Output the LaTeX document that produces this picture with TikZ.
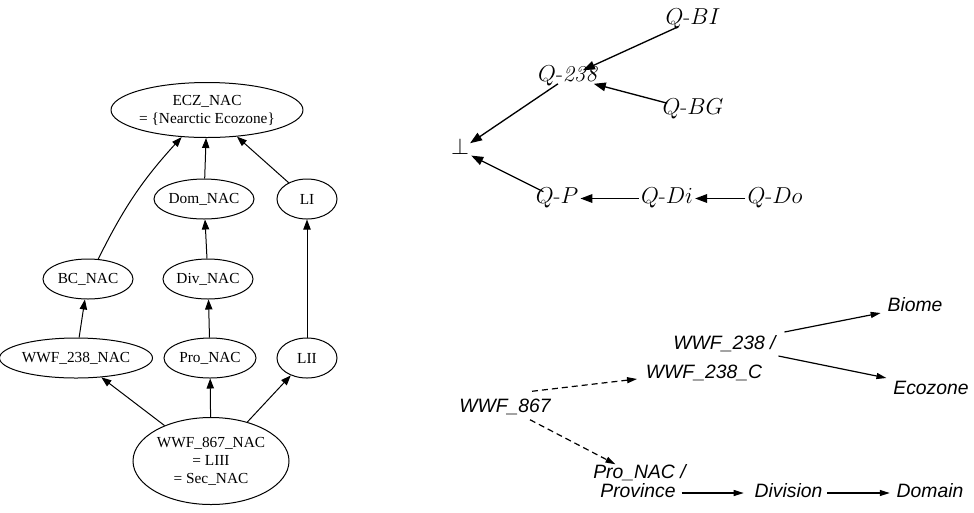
\documentclass[tikz,border=0pt]{standalone}
\usepackage{fontspec}
\newfontfamily\tnr{Liberation Serif}
\newfontfamily\hel{Liberation Sans}
\usetikzlibrary{arrows.meta,shapes.geometric,calc}
\begin{document}
\begin{tikzpicture}[x=0.75pt,y=-0.75pt,
  gv/.style={draw, ellipse, line width=0.75pt, inner sep=0pt, minimum height=30pt,
             font=\tnr\fontsize{11.5}{13.5}\selectfont, align=center},
  gvedge/.style={line width=0.75pt, -{Triangle[length=7.5pt,width=5.5pt]}},
  qn/.style={inner sep=1.5pt, font=\fontsize{17}{20}\selectfont, text height=0.68em, text depth=0pt},
  qedge/.style={line width=1pt, -{Triangle[length=9pt,width=6.5pt]}},
  hn/.style={inner sep=2pt, font=\hel\itshape\fontsize{14.5}{17}\selectfont, text height=0.72em, text depth=0pt},
  hedge/.style={line width=0.9pt, -{Triangle[length=7.5pt,width=4.5pt]}},
  hdash/.style={hedge, dash pattern=on 4.5pt off 3pt}
]
\useasboundingbox (0,0) rectangle (974,512);

% ---- left graph ----
\node[gv, minimum width=130.5pt, minimum height=41.25pt] (ecz) at (207,110) {ECZ\_NAC\\= \{Nearctic Ecozone\}};
\node[gv, minimum width=67.5pt] (dom) at (204,199) {Dom\_NAC};
\node[gv, minimum width=45pt] (li) at (307,199) {LI};
\node[gv, minimum width=67.5pt] (bc) at (88,279) {BC\_NAC};
\node[gv, minimum width=67.5pt] (div) at (208,279) {Div\_NAC};
\node[gv, minimum width=102.75pt] (w238n) at (76,358) {WWF\_238\_NAC};
\node[gv, minimum width=69pt] (pro) at (210,358) {Pro\_NAC};
\node[gv, minimum width=45pt] (lii) at (307,358) {LII};
\node[gv, minimum width=117pt, minimum height=65.25pt] (w867n) at (211,461) {WWF\_867\_NAC\\= LIII\\= Sec\_NAC};

\draw[gvedge] (bc) to[bend left=8] (ecz);
\draw[gvedge] (dom) -- (ecz);
\draw[gvedge] (li) -- (ecz);
\draw[gvedge] (div) -- (dom);
\draw[gvedge] (lii) -- (li);
\draw[gvedge] (w238n) -- (bc);
\draw[gvedge] (pro) -- (div);
\draw[gvedge] (w867n) -- (w238n);
\draw[gvedge] (w867n) -- (pro);
\draw[gvedge] (w867n) -- (lii);

% ---- right top ----
\node[qn] (qbi) at (693,20) {$Q$-$BI$};
\node[qn] (q238) at (568,77) {$Q$-\textit{238}};
\node[qn] (qbg) at (693,110) {$Q$-$BG$};
\node[qn] (bot) at (460,150) {$\perp$};
\node[qn] (qp) at (557,198.5) {$Q$-$P$};
\node[qn] (qdi) at (667,198.5) {$Q$-$Di$};
\node[qn] (qdo) at (775,198.5) {$Q$-$Do$};

\draw[qedge] (qbi) -- (q238);
\draw[qedge] (qbg) -- (q238);
\draw[qedge] (q238) -- (bot);
\draw[qedge] (qp) -- (bot);
\draw[qedge] (qdi) -- (qp);
\draw[qedge] (qdo) -- (qdi);

% ---- right bottom ----
\node[hn] (biome) at (915,307) {Biome};
\node[hn] (w238a) at (724.5,345) {WWF\_238 /};
\node[hn] (w238c) at (704,374) {WWF\_238\_C};
\node[hn] (eco) at (931,390) {Ecozone};
\node[hn] (w867) at (505,408) {WWF\_867};
\node[hn] (pronac) at (639.5,474) {Pro\_NAC /};
\node[hn] (prov) at (638,493) {Province};
\node[hn] (divi) at (788.5,493) {Division};
\node[hn] (domain) at (930,493) {Domain};

\draw[hedge] ($(w238a.east)+(6,-13)$) -- ($(biome.west)+(-4,6)$);
\draw[hedge] ($(w238a.east)+(0,11)$) -- ($(eco.west)+(-4,-12)$);
\draw[hdash] ($(w867.north)+(27,-9)$) -- ($(w238c.west)+(-6,5)$);
\draw[hdash] ($(w867.south)+(25,4)$) -- ($(pronac.north)+(-24,-2)$);
\draw[hedge] ($(prov.east)+(3,0)$) -- ($(divi.west)+(-8,0)$);
\draw[hedge] ($(divi.east)+(2,0)$) -- ($(domain.west)+(-4,0)$);
\end{tikzpicture}
\end{document}
